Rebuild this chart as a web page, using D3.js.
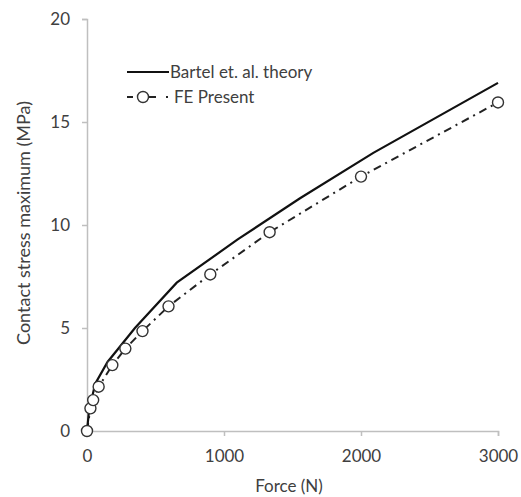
<!DOCTYPE html>
<html>
<head>
<meta charset="utf-8">
<script src="https://cdn.jsdelivr.net/npm/d3@7"></script>
<style>
  html, body { margin: 0; padding: 0; background: #fff; }
  svg { display: block; }
  text { font-family: Lato, "Open Sans", sans-serif; fill: #404040; }
</style>
</head>
<body>
<svg id="chart" width="521" height="497"></svg>
<script>
// ---- data ----
const theoryForce  = [0, 15, 60, 150, 350, 655, 1100, 1555, 2090, 3000];
const theoryStress = [0, 1.0, 2.3, 3.35, 5.0, 7.2, 9.3, 11.3, 13.5, 16.9];
const feForce  = [0, 25, 45, 85, 185, 280, 405, 595, 900, 1333, 2000, 3000];
const feStress = [0, 1.1, 1.5, 2.15, 3.2, 4.0, 4.85, 6.05, 7.6, 9.65, 12.35, 15.95];
const xTicks = [0, 1000, 2000, 3000];
const yTicks = [0, 5, 10, 15, 20];
const seriesNames = ["Bartel et. al. theory", "FE Present"];
const xTitle = "Force (N)";
const yTitle = "Contact stress maximum (MPa)";

const svg = d3.select("#chart");
const x = d3.scaleLinear().domain([0, 3000]).range([87, 498]);
const y = d3.scaleLinear().domain([0, 20]).range([431, 19]);

const axisColor = "#bfbfbf";
const fontSize = 17;

// axes
const gx = svg.append("g").attr("transform", `translate(0,${y(0)})`)
  .call(d3.axisBottom(x).tickValues(xTicks).tickSize(5).tickPadding(14).tickFormat(d3.format("d")));
const gy = svg.append("g").attr("transform", `translate(${x(0)},0)`)
  .call(d3.axisLeft(y).tickValues(yTicks).tickSize(5).tickPadding(12).tickFormat(d3.format("d")));
[gx, gy].forEach(g => {
  g.select(".domain").attr("stroke", axisColor).attr("stroke-width", 1.5);
  g.selectAll(".tick line").attr("stroke", axisColor).attr("stroke-width", 1.5);
  g.selectAll(".tick text").attr("font-size", fontSize).attr("fill", "#404040")
    .attr("font-family", "Lato, 'Open Sans', sans-serif");
});
gy.selectAll(".tick text").attr("dy", "0.35em");

// titles
svg.append("text").attr("x", 289).attr("y", 492).attr("text-anchor", "middle")
  .attr("font-size", fontSize).text(xTitle);
svg.append("text").attr("transform", "translate(30,223) rotate(-90)")
  .attr("text-anchor", "middle").attr("font-size", 18).text(yTitle);

// lines
const line = d3.line().x(d => x(d[0])).y(d => y(d[1]));
const theory = theoryForce.map((f, i) => [f, theoryStress[i]]);
const fe = feForce.map((f, i) => [f, feStress[i]]);

svg.append("path").datum(fe).attr("d", line).attr("fill", "none")
  .attr("stroke", "#222").attr("stroke-width", 2).attr("stroke-dasharray", "8,5,2,5");
svg.append("path").datum(theory).attr("d", line).attr("fill", "none")
  .attr("stroke", "#111").attr("stroke-width", 2.2);

svg.append("g").selectAll("circle").data(fe).join("circle")
  .attr("cx", d => x(d[0])).attr("cy", d => y(d[1])).attr("r", 5.5)
  .attr("fill", "#fff").attr("stroke", "#333").attr("stroke-width", 1.4);

// legend
const lg = svg.append("g");
lg.append("line").attr("x1", 127).attr("x2", 169).attr("y1", 72).attr("y2", 72)
  .attr("stroke", "#111").attr("stroke-width", 2.2);
lg.append("text").attr("x", 170).attr("y", 78).attr("font-size", fontSize).text(seriesNames[0]);
lg.append("line").attr("x1", 127).attr("x2", 169).attr("y1", 97).attr("y2", 97)
  .attr("stroke", "#222").attr("stroke-width", 2).attr("stroke-dasharray", "6,9,14,10,2,5");
lg.append("circle").attr("cx", 143).attr("cy", 97).attr("r", 5.5)
  .attr("fill", "#fff").attr("stroke", "#333").attr("stroke-width", 1.4);
lg.append("text").attr("x", 174).attr("y", 103).attr("font-size", fontSize).text(seriesNames[1]);
</script>
</body>
</html>
